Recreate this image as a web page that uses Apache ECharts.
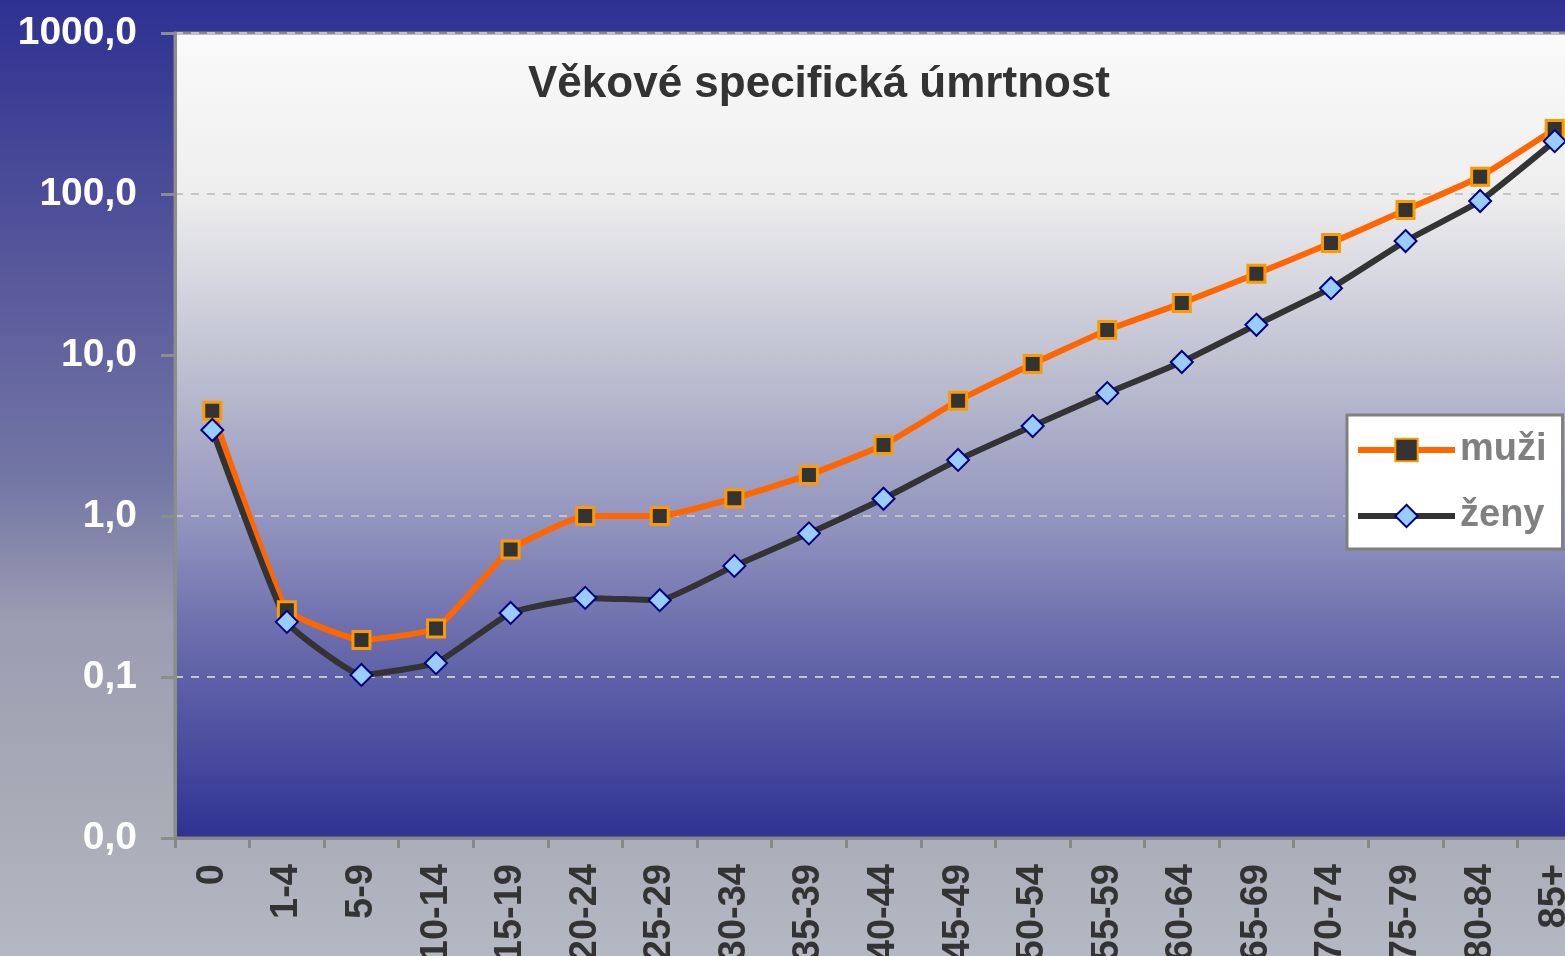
<!DOCTYPE html>
<html>
<head>
<meta charset="utf-8">
<title>Věkově specifická úmrtnost</title>
<script src="https://cdn.jsdelivr.net/npm/echarts@6/dist/echarts.min.js"></script>
<style>
  html, body { margin: 0; padding: 0; }
  #chart { width: 1565px; height: 956px; }
</style>
</head>
<body>
<div id="chart"></div>
<script>
// vekove skupiny
var ageGroups = ["0", "1-4", "5-9", "10-14", "15-19", "20-24", "25-29", "30-34", "35-39",
  "40-44", "45-49", "50-54", "55-59", "60-64", "65-69", "70-74", "75-79", "80-84", "85+"];
// umrtnost na 1000 osob
var muzi = [4.5, 0.26, 0.17, 0.2, 0.62, 1.0, 1.0, 1.29, 1.8, 2.76, 5.2, 8.8, 14.3, 21, 32, 49.6, 79.6, 128, 253];
var zeny = [3.42, 0.22, 0.103, 0.122, 0.25, 0.31, 0.30, 0.49, 0.78, 1.28, 2.23, 3.62, 5.8, 9.05, 15.4, 26, 51, 90.5, 213];
var yTickLabels = ["0,0", "0,1", "1,0", "10,0", "100,0", "1000,0"];

var chart = echarts.init(document.getElementById("chart"));
chart.setOption({
  backgroundColor: new echarts.graphic.LinearGradient(0, 0, 0, 1, [
    { offset: 0, color: "#2e3192" },
    { offset: 0.3, color: "#5a5a9c" },
    { offset: 0.5, color: "#7276a4" },
    { offset: 0.65, color: "#9c9cb2" },
    { offset: 0.85, color: "#a9acb6" },
    { offset: 1, color: "#b4b8c2" }
  ]),
  animation: false,
  title: {
    text: "Věkové specifická úmrtnost",
    left: 814,
    top: 58,
    textAlign: "center",
    textStyle: {
      color: "#333333",
      fontFamily: "Liberation Sans",
      fontWeight: "bold",
      fontSize: 44
    }
  },
  legend: {
    orient: "vertical",
    left: 1347,
    top: 415,
    backgroundColor: "#ffffff",
    borderColor: "#808080",
    borderWidth: 3,
    borderRadius: 0,
    padding: [16, 16, 14, 8],
    itemWidth: 97,
    itemHeight: 28,
    itemGap: 28,
    lineStyle: { width: 6 },
    textStyle: {
      color: "#808080",
      fontFamily: "Liberation Sans",
      fontWeight: "bold",
      fontSize: 38
    },
    data: ["muži", "ženy"]
  },
  grid: {
    left: 175,
    top: 33,
    bottom: 118,
    right: -27,
    outerBoundsMode: "none",
    containLabel: false,
    show: true,
    borderWidth: 3,
    borderColor: "#888888",
    backgroundColor: new echarts.graphic.LinearGradient(0, 0, 0, 1, [
      { offset: 0, color: "#fafafa" },
      { offset: 0.2, color: "#eeeeee" },
      { offset: 0.45, color: "#b6b8cc" },
      { offset: 0.6, color: "#9496c0" },
      { offset: 0.75, color: "#6a6cac" },
      { offset: 0.88, color: "#4c4ea0" },
      { offset: 1, color: "#2e3192" }
    ])
  },
  xAxis: {
    type: "category",
    data: ageGroups,
    boundaryGap: true,
    axisLine: { lineStyle: { color: "#888888", width: 3 } },
    axisTick: { show: true, length: 10, lineStyle: { color: "#888888", width: 3 } },
    axisLabel: {
      rotate: 90,
      margin: 26,
      color: "#333333",
      fontFamily: "Liberation Sans",
      fontWeight: "bold",
      fontSize: 38,
      interval: 0
    }
  },
  yAxis: {
    type: "log",
    logBase: 10,
    min: 0.01,
    max: 1000,
    axisLine: { show: true, lineStyle: { color: "#8a8f8a", width: 3 } },
    axisTick: { show: true, length: 14, lineStyle: { color: "#8a8f8a", width: 3 } },
    axisLabel: {
      margin: 38,
      color: "#ffffff",
      fontFamily: "Liberation Sans",
      fontWeight: "bold",
      fontSize: 39,
      formatter: function (v) {
        return yTickLabels[Math.round(Math.log10(v)) + 2];
      }
    },
    splitLine: {
      show: true,
      lineStyle: { color: "#c4c4c4", width: 2, type: [8, 8] }
    }
  },
  series: [
    {
      name: "muži",
      type: "line",
      data: muzi,
      smooth: 0.12,
      symbol: "rect",
      symbolSize: 17,
      lineStyle: { color: "#ff6600", width: 6 },
      itemStyle: { color: "#333333", borderColor: "#ff9900", borderWidth: 3 }
    },
    {
      name: "ženy",
      type: "line",
      data: zeny,
      smooth: 0.12,
      symbol: "diamond",
      symbolSize: 22,
      lineStyle: { color: "#333333", width: 6 },
      itemStyle: { color: "#99ccff", borderColor: "#000080", borderWidth: 2 }
    }
  ]
});
</script>
</body>
</html>
